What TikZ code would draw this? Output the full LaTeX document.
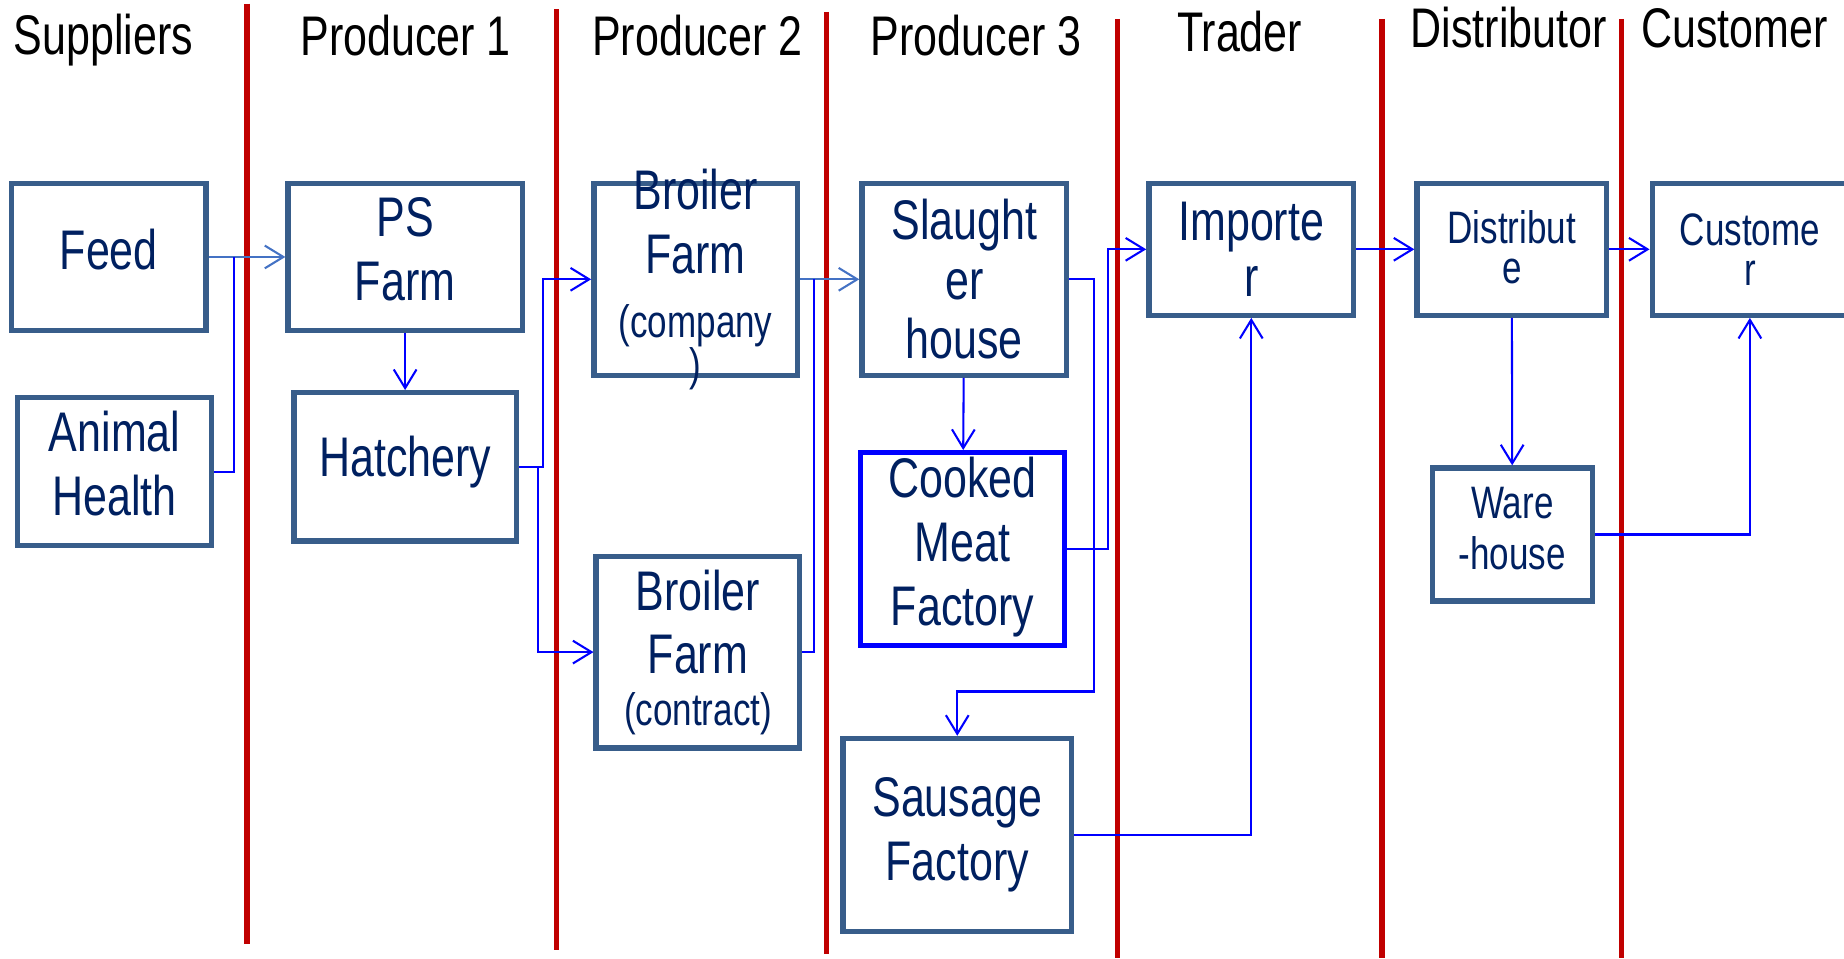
\documentclass[tikz,border=0pt]{standalone}
\usepackage{fontspec}
\setmainfont{Liberation Sans}[FakeStretch=0.77]
\usetikzlibrary{arrows.meta}

\definecolor{boxline}{RGB}{56,93,138}
\definecolor{boxtext}{RGB}{0,32,96}
\definecolor{laneline}{RGB}{192,0,0}
\definecolor{flowblue}{RGB}{0,0,255}
\definecolor{flowlight}{RGB}{68,114,196}

\newcommand{\bigtext}{\fontsize{13.5}{15.4}\selectfont}
\newcommand{\smalltext}{\fontsize{11}{9.7}\selectfont}

\begin{document}
\begin{tikzpicture}[x=0.01cm, y=-0.01cm,
                        lane/.style = {draw=laneline, line width=1.3pt},
                        stage/.style = {anchor=base, font=\bigtext, inner sep=0pt},
                        boxlabel/.style = {align=center, text=boxtext, font=\bigtext, inner sep=0pt},
                        unit/.style = {boxlabel, draw=boxline, line width=1.3pt},
                        flow/.style = {draw=flowblue, line width=0.5pt, -{Straight Barb[length=4.5pt, width=5.5pt]}},
                        link/.style = {draw=flowblue, line width=0.5pt}]
                        \useasboundingbox (0,0) rectangle (1568,815);

                        \foreach \x/\a/\b in {210/3/803, 473/8/808, 703/10/811, 950/16/815, 1175/16/815, 1379/16/815}
                            \draw[lane] (\x,\a) -- (\x,\b);

                        \node (s1) [stage] at (88,46) {Suppliers};
                        \node (s2) [stage] at (345,47) {Producer 1};
                        \node (s3) [stage] at (593,47) {Producer 2};
                        \node (s4) [stage] at (830,47) {Producer 3};
                        \node (s5) [stage] at (1054,44) {Trader};
                        \node (s6) [stage] at (1283,40) {Distributor};
                        \node (s7) [stage] at (1475,40) {Customer};

                        \node (feed) [unit, text depth=3.5pt, minimum width=1.65cm, minimum height=1.25cm] at (92.5,218.5) {Feed};
                        \node (health) [unit, text depth=4pt, minimum width=1.65cm, minimum height=1.26cm] at (97.5,401) {Animal\\Health};
                        \node (psfarm) [unit, text depth=4pt, minimum width=1.99cm, minimum height=1.25cm] at (344.5,218.5) {PS\\Farm};
                        \node (hatch) [unit, text depth=5pt, minimum width=1.89cm, minimum height=1.26cm] at (344.5,397) {Hatchery};
                        \node (brcomp) [unit, minimum width=1.73cm, minimum height=1.63cm] at (591.5,237.5) {};
                        \node (brcomptext) [boxlabel] at (brcomp)
                            {Broiler\\Farm\\{\smalltext (company}\\[-5pt]{\smalltext )}};
                        \node (brcont) [unit, minimum width=1.73cm, minimum height=1.63cm] at (593.5,554.5)
                            {Broiler\\Farm\\[-3pt]{\smalltext (contract)}};
                        \node (slaught) [unit, minimum width=1.74cm, minimum height=1.63cm] at (820,237.5)
                            {Slaught\\[-1pt]er\\[-1pt]house};
                        \node (cooked) [unit, draw=flowblue, text depth=3.8pt, minimum width=1.73cm, minimum height=1.64cm] at (818.5,467)
                            {Cooked\\Meat\\Factory};
                        \node (sausage) [unit, minimum width=1.94cm, minimum height=1.64cm] at (814,710) {Sausage\\Factory};
                        \node (importer) [unit, minimum width=1.74cm, minimum height=1.12cm] at (1064,212) {Importe\\[-2pt]r};
                        \node (distrib) [unit, font=\smalltext, text depth=1pt, minimum width=1.61cm, minimum height=1.12cm] at (1285.5,212)
                            {Distribut\\e};
                        \node (customer) [unit, font=\smalltext, minimum width=1.66cm, minimum height=1.12cm] at (1488,212)
                            {Custome\\r};
                        \node (ware) [unit, font=\fontsize{11}{12.5}\selectfont, text depth=3pt, minimum width=1.36cm, minimum height=1.13cm] at (1286,454.5)
                            {Ware\\-house};

                        \coordinate (feedjoin) at (199,218.5);
                        \coordinate (farmjoin) at (692,237.5);

                        \draw[flow, draw=flowlight] (feed) -- (psfarm);
                        \draw[link] (health.east) -| (feedjoin);
                        \draw[flow] (psfarm) -- (hatch);
                        \draw[flow] (hatch.east) -- ++(20,0) |- (brcomp.west);
                        \draw[flow] (hatch.east) -- ++(16,0) |- (brcont.west);
                        \draw[flow, draw=flowlight] (brcomp) -- (slaught);
                        \draw[link] (brcont.east) -| (farmjoin);
                        \draw[flow] (slaught) -- (cooked);
                        \draw[flow] (slaught.east) -- ++(21,0) -- ++(0,350.5) -| (sausage.north);
                        \draw[flow] (cooked.east) -- ++(35,0) |- (importer.west);
                        \draw[flow] (sausage.east) -| (importer.south);
                        \draw[flow] (importer) -- (distrib);
                        \draw[flow] (distrib) -- (customer);
                        \draw[flow] (distrib) -- (ware);
                        \draw[flow] (ware.east) -| (customer.south);
                    \end{tikzpicture}
\end{document}
